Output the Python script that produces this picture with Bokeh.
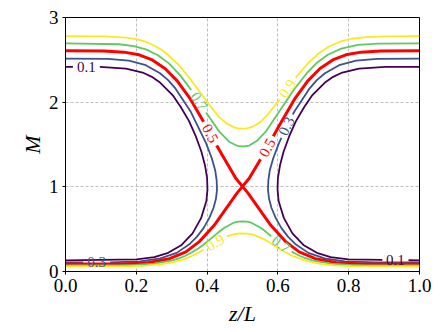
import numpy as np
from bokeh.plotting import figure
from bokeh.models import Range1d, FixedTicker, PrintfTickFormatter
from bokeh.embed import file_html
from bokeh.resources import INLINE
from bokeh.core.properties import value

nan = float("nan")

# ---- contour level 0.1 (two closed lobes) ----
lev01_left_x = [0, .021, nan, .097, .171, .221, .244, .265, .304, .326, .349, .368, .384, .394, .4, .401, .398, .383, .359, .328, .29, .251, .201, 0]
lev01_left_y = [2.418, 2.418, nan, 2.416, 2.397, 2.345, 2.299, 2.239, 2.076, 1.94, 1.776, 1.598, 1.415, 1.256, 1.104, .968, .833, .63, .451, .314, .221, .171, .144, .131]
lev01_right_x = [1, .903, .829, .779, .756, .735, .696, .674, .651, .632, .616, .606, .6, .599, .602, .617, .641, .672, .71, .749, .799, .895, nan, .969, 1]
lev01_right_y = [2.418, 2.416, 2.397, 2.345, 2.299, 2.239, 2.076, 1.94, 1.776, 1.598, 1.415, 1.256, 1.104, .968, .833, .63, .451, .314, .221, .171, .144, .138, nan, .133, .131]

# ---- contour level 0.3 ----
lev03_left_x = [0, .12, .179, .227, .267, .29, .311, .353, .397, .413, .423, .427, .428, .425, .418, .406, .39, .371, .351, .314, .268, .211, .126, nan, .05, 0]
lev03_left_y = [2.515, 2.511, 2.49, 2.437, 2.341, 2.26, 2.159, 1.893, 1.517, 1.34, 1.192, 1.075, .963, .858, .75, .63, .512, .409, .325, .22, .154, .12, .108, nan, .107, .107]
lev03_right_x = [1, .88, .821, .773, .733, .71, .689, .647, .642, nan, .61, .603, .587, .577, .573, .572, .575, .582, .594, .61, .629, .649, .686, .732, .789, .874, 1]
lev03_right_y = [2.515, 2.511, 2.49, 2.437, 2.341, 2.26, 2.159, 1.893, 1.854, nan, 1.578, 1.517, 1.34, 1.192, 1.075, .963, .858, .75, .63, .512, .409, .325, .22, .154, .12, .108, .107]

# ---- contour level 0.5 (separatrix, two crossing branches) ----
lev05_a_x = [0, .109, .165, .208, .245, .281, .316, .351, .39, nan, .427, .481, .515, .58, .621, .66, .706, .764, .839, 1]
lev05_a_y = [2.607, 2.604, 2.591, 2.559, 2.499, 2.397, 2.249, 2.049, 1.77, nan, 1.489, 1.101, .929, .545, .356, .232, .151, .107, .09, .088]
lev05_b_x = [0, .161, .236, .294, .34, .379, .42, .485, .519, .551, nan, .587, .61, .649, .684, .719, .755, .792, .835, .891, 1]
lev05_b_y = [.088, .09, .107, .151, .232, .356, .545, .929, 1.101, 1.327, nan, 1.597, 1.77, 2.049, 2.249, 2.397, 2.499, 2.559, 2.591, 2.604, 2.607]

# ---- contour level 0.7 ----
lev07_upper_x = [0, .152, .193, .227, .26, .292, .323, .355, nan, .397, .435, .463, .488, .505, .519, .54, .565, .646, .681, .71, .741, .779, .826, .884, 1]
lev07_upper_y = [2.695, 2.684, 2.663, 2.624, 2.557, 2.458, 2.322, 2.143, nan, 1.877, 1.649, 1.53, 1.48, 1.477, 1.487, 1.541, 1.648, 2.152, 2.339, 2.465, 2.56, 2.633, 2.676, 2.692, 2.695]
lev07_lower_x = [0, .1, .15, .2, .25, .3, .325, .3375, .35, .3625, .375, .3875, .4, .4125, .425, .4375, .45, .475, .4875, .5, .5125, .525, .55, .5625, .575, .581, nan, .639, .65, .6625, .675, .7, .75, .8, .85, .9, 1]
lev07_lower_y = [.0715, .0719, .0732, .0781, .0927, .1291, .1619, .1835, .2089, .2383, .2719, .3097, .3508, .3941, .4382, .4812, .5203, .5758, .5882, .5915, .5882, .5758, .5203, .4812, .4382, .417, nan, .235, .2089, .1835, .1619, .1291, .0927, .0781, .0732, .0719, .0715]

# ---- contour level 0.9 ----
lev09_upper_x = [0, .113, .171, .195, .217, .236, .254, .271, .288, .322, .352, .412, .435, .457, .478, .493, .512, .525, .539, .553, .568, .605, nan, .65, .683, .713, .743, .775, .808, .849, .901, 1]
lev09_upper_y = [2.779, 2.776, 2.762, 2.747, 2.726, 2.696, 2.661, 2.618, 2.565, 2.43, 2.275, 1.937, 1.821, 1.743, 1.699, 1.688, 1.69, 1.704, 1.733, 1.775, 1.837, 2.031, nan, 2.288, 2.451, 2.568, 2.655, 2.714, 2.749, 2.769, 2.777, 2.779]
lev09_lower_x = [0, .182, .229, .267, .302, .332, .36, .39, nan, .456, .474, .492, .514, .532, .56, .616, .645, .68, .717, .756, .806, 1]
lev09_lower_y = [.059, .062, .069, .083, .107, .141, .189, .256, nan, .415, .439, .449, .447, .432, .383, .24, .178, .126, .092, .073, .063, .059]

# ---- inline contour labels ----
label_text = ["0.1", "0.1", "0.3", "0.3", "0.5", "0.5", "0.7", "0.7", "0.9", "0.9"]
label_x = [0.059, 0.932, 0.088, 0.624, 0.409, 0.570, 0.377, 0.609, 0.627, 0.423]
label_y = [2.417, 0.131, 0.107, 1.716, 1.630, 1.462, 2.011, 0.322, 2.160, 0.340]
label_angle_deg = [0, 0, 0, 64.0, -61.6, 61.5, -56.8, -37.7, 54.1, 31.4]

x_ticks = [0.0, 0.2, 0.4, 0.6, 0.8, 1.0]
y_ticks = [0, 1, 2, 3]

C01, C03, C05, C07, C09 = "#440154", "#3b528b", "#ff0000", "#5ec962", "#fde725"
level_color = {"0.1": C01, "0.3": C03, "0.5": C05, "0.7": C07, "0.9": C09}

series = [
    (lev01_left_x, lev01_left_y, C01, 1.8),
    (lev01_right_x, lev01_right_y, C01, 1.8),
    (lev03_left_x, lev03_left_y, C03, 1.8),
    (lev03_right_x, lev03_right_y, C03, 1.8),
    (lev05_a_x, lev05_a_y, C05, 3.0),
    (lev05_b_x, lev05_b_y, C05, 3.0),
    (lev07_upper_x, lev07_upper_y, C07, 1.8),
    (lev07_lower_x, lev07_lower_y, C07, 1.8),
    (lev09_upper_x, lev09_upper_y, C09, 1.8),
    (lev09_lower_x, lev09_lower_y, C09, 1.8),
]

FONT = "Liberation Serif"

p = figure(width=435, height=328, x_range=Range1d(0, 1), y_range=Range1d(0, 3),
           output_backend="svg", toolbar_location=None,
           min_border_left=65, min_border_right=16, min_border_top=17, min_border_bottom=57)
p.background_fill_color = "white"
p.border_fill_color = "white"
p.outline_line_color = "black"
p.outline_line_width = 1

for xs, ys, col, lw in series:
    p.line(xs, ys, line_color=col, line_width=lw)

p.text(label_x, label_y, text=label_text,
       angle=[np.radians(a) for a in label_angle_deg],
       text_color=[level_color[t] for t in label_text],
       text_font=value(FONT), text_font_size="15px",
       text_align="center", text_baseline="middle")

p.xaxis.ticker = FixedTicker(ticks=x_ticks)
p.yaxis.ticker = FixedTicker(ticks=y_ticks)
p.xaxis.formatter = PrintfTickFormatter(format="%.1f")
p.yaxis.formatter = PrintfTickFormatter(format="%d")
p.xgrid.ticker = FixedTicker(ticks=[0.2, 0.4, 0.6, 0.8])
p.ygrid.ticker = FixedTicker(ticks=[1, 2])
for g in (p.xgrid, p.ygrid):
    g.grid_line_color = "#bdbdbd"
    g.grid_line_dash = "3 2"
    g.grid_line_width = 1

for ax in (p.xaxis, p.yaxis):
    ax.axis_line_color = "black"
    ax.axis_line_width = 1
    ax.major_tick_line_color = "black"
    ax.major_tick_out = 3
    ax.major_tick_in = 0
    ax.minor_tick_line_color = None
    ax.major_label_standoff = 4
    ax.major_label_text_font = FONT
    ax.major_label_text_font_size = "19px"
    ax.major_label_text_color = "black"
    ax.axis_label_text_font = FONT
    ax.axis_label_text_font_size = "22px"
    ax.axis_label_text_font_style = "italic"
    ax.axis_label_text_color = "black"

p.xaxis.axis_label_standoff = 6
p.yaxis.axis_label_standoff = 1

p.xaxis.axis_label = "z/L"
p.yaxis.axis_label = "M"

open("out.html", "w").write(file_html(p, INLINE))
